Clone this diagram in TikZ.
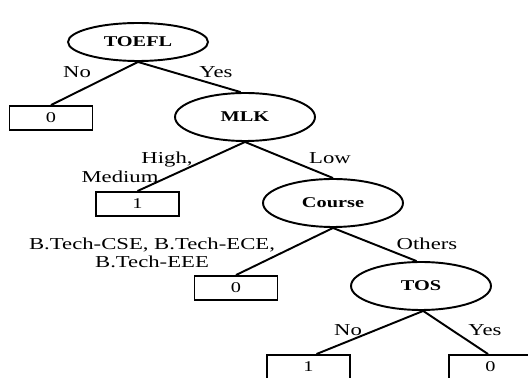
\documentclass[tikz,border=0pt]{standalone}
\usepackage{fontspec}
\setmainfont{Liberation Serif}
\newfontfamily\treefont[FakeStretch=1.36]{Liberation Serif}
\usetikzlibrary{positioning, shapes.geometric}

\begin{document}
\begin{tikzpicture}[x=0.02cm, y=-0.02cm,
    attr/.style={
      ellipse, draw, line width=1.1pt, minimum width=2.8cm,
      minimum height=0.96cm, inner sep=0pt, font=\treefont\fontsize{8.5}{10}\selectfont\bfseries
    },
    leaf/.style={rectangle, draw, line width=1.1pt, minimum width=1.66cm,
      minimum height=0.48cm, inner sep=0pt, font=\treefont\fontsize{8.5}{10}\selectfont},
    lbl/.style={inner sep=0pt, align=center, font=\treefont\fontsize{9.5}{10}\selectfont},
    branch/.style={line width=1.1pt}
  ]
    \useasboundingbox (0,0) rectangle (528,378);
    \clip (0,0) rectangle (528,378);

    % attribute nodes
    \node[attr, minimum height=0.76cm] (toefl) at (138,42) {TOEFL};
    \node[attr] (mlk) at (245,117) {MLK};
    \node[attr] (course) at (333,203) {Course};
    \node[attr] (tos) at (421,286) {TOS};

    % leaves
    \node[leaf] (leafa) at (51,118) {0};
    \node[leaf] (leafb) at (137.5,204) {1};
    \node[leaf] (leafc) at (236,288) {0};
    \node[leaf] (leafd) at (308.5,367) {1};
    \node[leaf] (leafe) at (490.5,367) {0};

    % branches
    \draw[branch] (toefl.south) -- (leafa.north);
    \draw[branch] (toefl.south) -- (mlk.100);
    \draw[branch] (mlk.south) -- (leafb.north);
    \draw[branch] (mlk.south) -- (course.north);
    \draw[branch] (course.south) -- (leafc.north);
    \draw[branch] (course.south) -- (tos.100);
    \draw[branch] (tos.-85) -- ([xshift=0.16cm]leafd.north);
    \draw[branch] (tos.-85) -- ([xshift=-0.05cm]leafe.north);

    % branch labels
    \node[lbl] (lno1) at (77,72) {No};
    \node[lbl] (lyes1) at (216,72) {Yes};
    \node[lbl] (lhigh) at (167,160) {High,};
    \node[lbl] (lmed) at (120,177) {Medium};
    \node[lbl] (llow) at (330,158) {Low};
    \node[lbl] (lbtech) at (152,253) {B.Tech-CSE, B.Tech-ECE,\\B.Tech-EEE};
    \node[lbl] (lothers) at (427,244) {Others};
    \node[lbl] (lno2) at (348,330) {No};
    \node[lbl] (lyes2) at (485,330) {Yes};
  \end{tikzpicture}
\end{document}
